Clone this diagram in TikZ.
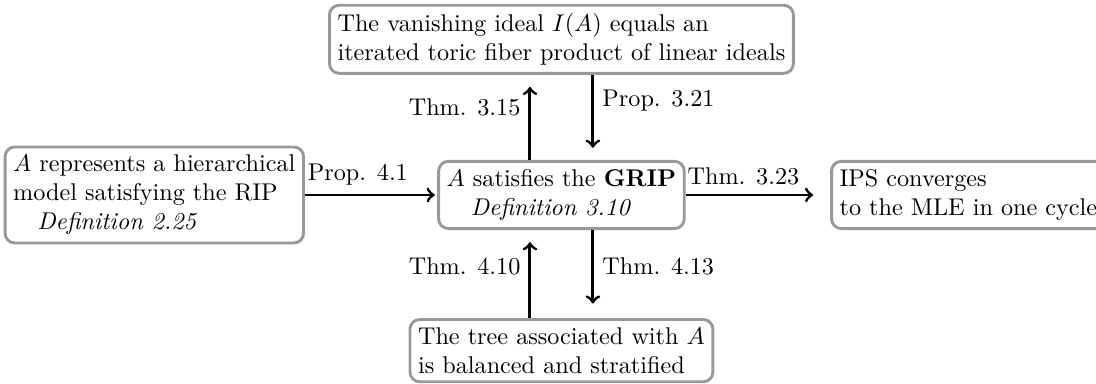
\documentclass[tikz,border=0pt]{standalone}
\usepackage{amsmath,amssymb}
\usetikzlibrary{calc}
\tikzset{
  stmt/.style={draw=gray!80, line width=1.2pt, rounded corners, align=left, fill=white},
  impl/.style={->, very thick},
}

\begin{document}
\begin{tikzpicture}
	\useasboundingbox (-8.15,-2.73) rectangle (7.76,2.83);
	% Statements
	\node[stmt] (grip) at (0,0) {$A$ satisfies the \textbf{GRIP}\\ \quad\textit{Definition 3.10}};
	\node[stmt] (rip) at (-5.91,0) {$A$ represents a hierarchical\\model satisfying the RIP\\ \quad\textit{Definition 2.25}};
	\node[stmt] (toric) at (0,2.26) {The vanishing ideal $I(A)$ equals an\\iterated toric fiber product of linear ideals};
	\node[stmt] (tree) at (0,-2.26) {The tree associated with $A$\\is balanced and stratified};
	\node[stmt, anchor=west] (ips) at (3.9,0) {IPS converges\\to the MLE in one cycle};

	% Implications
	\draw[impl, shorten >=1pt] (rip) -- node[above, pos=0.4] {Prop. 4.1} (grip);
	\draw[impl, shorten >=7pt] (grip) -- node[above, pos=0.4] {Thm. 3.23} (ips);
	\draw[impl, shorten >=5pt] ([xshift=-0.457cm]grip.north) -- node[left, pos=0.62] {Thm. 3.15} ([xshift=-0.457cm]grip.north |- toric.south);
	\draw[impl, shorten >=5pt] ([xshift=0.457cm]grip.north |- toric.south) -- node[right, pos=0.3] {Prop. 3.21} ([xshift=0.457cm]grip.north);
	\draw[impl, shorten >=5pt] ([xshift=-0.457cm]grip.south |- tree.north) -- node[left, pos=0.59] {Thm. 4.10} ([xshift=-0.457cm]grip.south);
	\draw[impl, shorten >=6pt] ([xshift=0.457cm]grip.south) -- node[right, pos=0.41] {Thm. 4.13} ([xshift=0.457cm]grip.south |- tree.north);
\end{tikzpicture}
\end{document}
